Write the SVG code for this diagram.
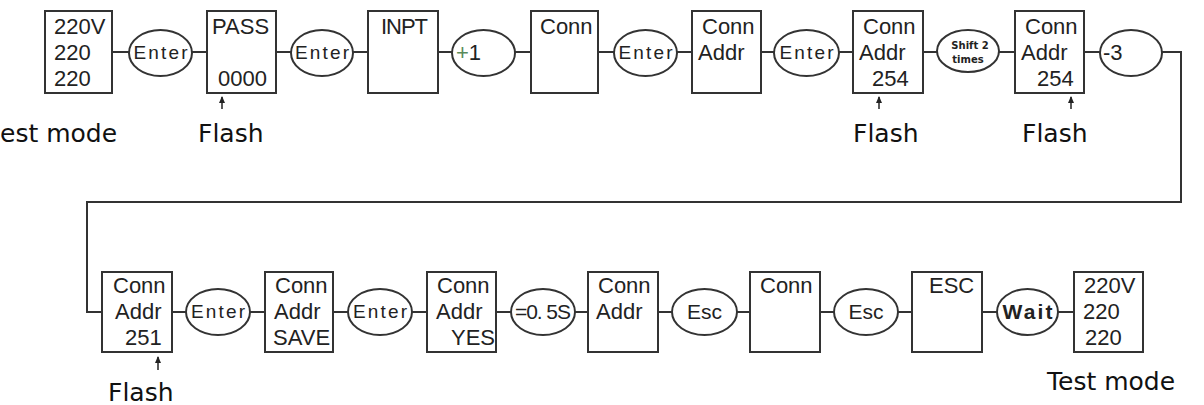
<svg xmlns="http://www.w3.org/2000/svg" width="1204" height="405" viewBox="0 0 1204 405">
<style>
.box{fill:#fff;stroke:#333;stroke-width:2}
.ell{fill:#fff;stroke:#333;stroke-width:2}
.ln{fill:none;stroke:#333;stroke-width:2}
.ar{fill:none;stroke:#222;stroke-width:1.5}
.t{font-family:"Liberation Sans",Arial,sans-serif;font-size:22px;fill:#222}
.e{font-family:"Liberation Sans",Arial,sans-serif;font-size:19px;fill:#222;text-anchor:middle}
.e2{font-size:21px}
.w{font-size:21px;font-weight:bold}
.big{font-family:"DejaVu Sans",Verdana,sans-serif;font-size:25px;fill:#111}
.s{font-family:"DejaVu Sans",Verdana,sans-serif;font-size:10px;font-weight:bold;fill:#222;text-anchor:middle}
</style>
<defs>
<marker id="ah" markerWidth="7" markerHeight="6" refX="6" refY="3" orient="auto" markerUnits="userSpaceOnUse"><path d="M0,0 L7,3 L0,6 Z" fill="#222"/></marker>
</defs>
<rect width="1204" height="405" fill="#fff"/>
<g id="connectors">
<path class="ln" d="M112,52H129M192,52H207M276,52H291M353,52H368M438,52H452M515,52H531M598,52H614M677,52H692M761,52H774M839,52H853M923,52H937M999,52H1015M1084,52H1100"/>
<path class="ln" d="M1162,52H1181V202H87V312H102"/>
<path class="ln" d="M172,312H186M250,312H265M333,312H348M412,312H427M496,312H511M575,312H588M658,312H672M737,312H750M820,312H834M898,312H912M982,312H997M1058,312H1074"/>
</g>
<g id="n1"><rect class="box" x="45" y="11" width="67" height="82"/><text class="t" x="54" y="34">220V</text><text class="t" x="54" y="60">220</text><text class="t" x="54" y="86">220</text></g>
<g id="e1"><ellipse class="ell" cx="160.5" cy="53" rx="31.5" ry="23"/><text class="e" x="160.5" y="59" textLength="54">Enter</text></g>
<g id="n2"><rect class="box" x="207" y="11" width="69" height="82"/><text class="t" x="212" y="34">PASS</text><text class="t" x="218" y="86">0000</text></g>
<g id="e2"><ellipse class="ell" cx="322" cy="53" rx="31" ry="23"/><text class="e" x="322" y="59" textLength="54">Enter</text></g>
<g id="n3"><rect class="box" x="368" y="11" width="70" height="82"/><text class="t" x="381" y="34" textLength="47">INPT</text></g>
<g id="e3"><ellipse class="ell" cx="483.5" cy="53" rx="31.5" ry="23"/><text class="t" x="456" y="60"><tspan fill="#5a8a5a">+</tspan>1</text></g>
<g id="n4"><rect class="box" x="531" y="11" width="67" height="82"/><text class="t" x="540" y="34">Conn</text></g>
<g id="e4"><ellipse class="ell" cx="645.5" cy="53" rx="31.5" ry="23"/><text class="e" x="645.5" y="59" textLength="54">Enter</text></g>
<g id="n5"><rect class="box" x="692" y="11" width="69" height="82"/><text class="t" x="702" y="34">Conn</text><text class="t" x="698" y="60">Addr</text></g>
<g id="e5"><ellipse class="ell" cx="806.5" cy="53" rx="32.5" ry="23"/><text class="e" x="806.5" y="59" textLength="54">Enter</text></g>
<g id="n6"><rect class="box" x="853" y="11" width="70" height="82"/><text class="t" x="863" y="34">Conn</text><text class="t" x="859" y="60">Addr</text><text class="t" x="872" y="86">254</text>
<line class="ar" x1="879" y1="109" x2="879" y2="97" marker-end="url(#ah)"/><text class="big" x="853" y="142">Flash</text></g>
<g id="e6"><ellipse class="ell" cx="968" cy="51" rx="31" ry="21"/><text class="s" x="970" y="49">Shift 2</text><text class="s" x="968" y="63">times</text></g>
<g id="n7"><rect class="box" x="1015" y="11" width="69" height="82"/><text class="t" x="1025" y="34">Conn</text><text class="t" x="1021" y="60">Addr</text><text class="t" x="1037" y="86">254</text>
<line class="ar" x1="1071" y1="109" x2="1071" y2="97" marker-end="url(#ah)"/><text class="big" x="1022" y="142">Flash</text></g>
<g id="e7"><ellipse class="ell" cx="1131" cy="53" rx="31" ry="23"/><text class="t" x="1103" y="60">-3</text></g>
<g id="lbl1"><text class="big" x="0" y="142">est mode</text></g>
<g id="flash1"><line class="ar" x1="222" y1="109" x2="222" y2="97" marker-end="url(#ah)"/><text class="big" x="198" y="142">Flash</text></g>
<g id="m1"><rect class="box" x="102" y="272" width="70" height="80"/><text class="t" x="113" y="293">Conn</text><text class="t" x="115" y="319">Addr</text><text class="t" x="125" y="345">251</text>
<line class="ar" x1="158" y1="370" x2="158" y2="357" marker-end="url(#ah)"/><text class="big" x="108" y="401">Flash</text></g>
<g id="f1"><ellipse class="ell" cx="218" cy="312" rx="32" ry="23"/><text class="e" x="218" y="318" textLength="54">Enter</text></g>
<g id="m2"><rect class="box" x="265" y="272" width="68" height="80"/><text class="t" x="275" y="293">Conn</text><text class="t" x="274" y="319">Addr</text><text class="t" x="273" y="345">SAVE</text></g>
<g id="f2"><ellipse class="ell" cx="380" cy="312" rx="32" ry="23"/><text class="e" x="380" y="318" textLength="54">Enter</text></g>
<g id="m3"><rect class="box" x="427" y="272" width="69" height="80"/><text class="t" x="437" y="293">Conn</text><text class="t" x="436" y="319">Addr</text><text class="t" x="451" y="345">YES</text></g>
<g id="f3"><ellipse class="ell" cx="543" cy="312" rx="32" ry="23"/><text class="e e2" x="543" y="319" textLength="56">=0. 5S</text></g>
<g id="m4"><rect class="box" x="588" y="272" width="70" height="80"/><text class="t" x="598" y="293">Conn</text><text class="t" x="596" y="319">Addr</text></g>
<g id="f4"><ellipse class="ell" cx="704.5" cy="312" rx="32.5" ry="23"/><text class="e e2" x="704.5" y="319">Esc</text></g>
<g id="m5"><rect class="box" x="750" y="272" width="70" height="80"/><text class="t" x="760" y="293">Conn</text></g>
<g id="f5"><ellipse class="ell" cx="866" cy="312" rx="32" ry="23"/><text class="e e2" x="866" y="319">Esc</text></g>
<g id="m6"><rect class="box" x="912" y="272" width="70" height="80"/><text class="t" x="929" y="293">ESC</text></g>
<g id="f6"><ellipse class="ell" cx="1027.5" cy="312" rx="30.5" ry="23"/><text class="e w" x="1027.5" y="319" textLength="50">Wait</text></g>
<g id="m7"><rect class="box" x="1074" y="272" width="69" height="80"/><text class="t" x="1084" y="293">220V</text><text class="t" x="1083" y="319">220</text><text class="t" x="1085" y="345">220</text></g>
<g id="lbl2"><text class="big" x="1047" y="390">Test mode</text></g>
</svg>
